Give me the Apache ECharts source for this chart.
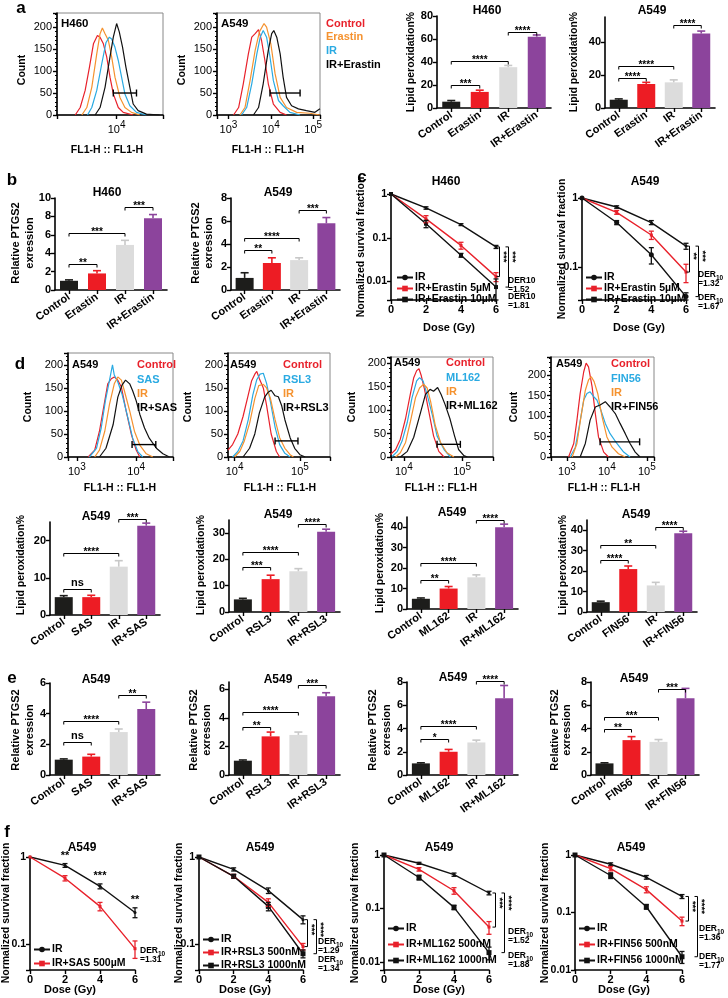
<!DOCTYPE html>
<html>
<head>
<meta charset="utf-8">
<script src="https://cdn.jsdelivr.net/npm/echarts@6/dist/echarts.min.js"></script>
<style>
html, body { margin: 0; padding: 0; background: #fff; }
#chart { width: 728px; height: 998px; }
</style>
</head>
<body>
<div id="chart"></div>
<script>
// ---------- data ----------
const doses = [0, 2, 4, 6];

const catsErastin = ['Control', 'Erastin', 'IR', 'IR+Erastin'];
const catsSAS = ['Control', 'SAS', 'IR', 'IR+SAS'];
const catsRSL3 = ['Control', 'RSL3', 'IR', 'IR+RSL3'];
const catsML162 = ['Control', 'ML162', 'IR', 'IR+ML162'];
const catsFIN56 = ['Control', 'FIN56', 'IR', 'IR+FIN56'];

// lipid peroxidation % (a, d)
const lipidH460 = [5.5, 14, 35.5, 62];
const lipidH460Err = [1, 1.5, 1.5, 1.5];
const lipidA549 = [5, 14.5, 15.5, 45];
const lipidA549Err = [0.5, 1, 1.5, 1.5];
const lipidSAS = [4.8, 4.8, 13, 24];
const lipidSASErr = [0.4, 0.5, 1.6, 0.7];
const lipidRSL3 = [4.8, 12.5, 15.5, 30.5];
const lipidRSL3Err = [0.4, 1.5, 1, 1];
const lipidML162 = [5, 10, 15.5, 40];
const lipidML162Err = [0.4, 1, 1.2, 1.5];
const lipidFIN56 = [4.8, 21, 13, 38.5];
const lipidFIN56Err = [0.5, 1.5, 1.5, 1];

// relative PTGS2 expression (b, e)
const ptgsH460 = [1.0, 1.8, 4.9, 7.8];
const ptgsH460Err = [0.1, 0.3, 0.5, 0.4];
const ptgsA549 = [1.05, 2.35, 2.6, 5.8];
const ptgsA549Err = [0.45, 0.45, 0.2, 0.5];
const ptgsSAS = [1.0, 1.2, 2.8, 4.3];
const ptgsSASErr = [0.05, 0.15, 0.2, 0.45];
const ptgsRSL3 = [1.0, 2.7, 2.8, 5.5];
const ptgsRSL3Err = [0.05, 0.3, 0.2, 0.25];
const ptgsML162 = [1.0, 2.0, 2.8, 6.6];
const ptgsML162Err = [0.05, 0.2, 0.2, 1.1];
const ptgsFIN56 = [1.0, 3.0, 2.85, 6.6];
const ptgsFIN56Err = [0.05, 0.3, 0.2, 0.85];

// significance brackets: [from, to, height, label]
const lipidH460Sig = [[0, 1, 20, '***'], [0, 2, 41, '****'], [2, 3, 66, '****']];
const lipidA549Sig = [[0, 1, 18, '****'], [0, 2, 25.5, '****'], [2, 3, 50, '****']];
const ptgsH460Sig = [[0, 1, 2.8, '**'], [0, 2, 6.2, '***'], [2, 3, 9, '***']];
const ptgsA549Sig = [[0, 1, 3.5, '**'], [0, 2, 4.5, '****'], [2, 3, 7, '***']];
const lipidSASSig = [[0, 1, 6.9, 'ns'], [0, 2, 16.7, '****'], [2, 3, 25.9, '***']];
const lipidRSL3Sig = [[0, 1, 17.1, '***'], [0, 2, 23, '****'], [2, 3, 33.4, '****']];
const lipidML162Sig = [[0, 1, 14.2, '**'], [0, 2, 22.3, '****'], [2, 3, 43.5, '****']];
const lipidFIN56Sig = [[0, 1, 25.4, '****'], [0, 2, 32.7, '**'], [2, 3, 41.6, '****']];
const ptgsSASSig = [[0, 1, 2.14, 'ns'], [0, 2, 3.5, '****'], [2, 3, 5.2, '**']];
const ptgsRSL3Sig = [[0, 1, 3.33, '**'], [0, 2, 4.4, '****'], [2, 3, 6.3, '***']];
const ptgsML162Sig = [[0, 1, 3.1, '*'], [0, 2, 4.2, '****'], [2, 3, 8.1, '****']];
const ptgsFIN56Sig = [[0, 1, 3.94, '**'], [0, 2, 5.0, '***'], [2, 3, 7.4, '***']];

// survival fractions (c, f)
const survH460IR = [1, 0.48, 0.2, 0.062];
const survH460IRErr = [0, 0.03, 0.01, 0.005];
const survH460E5 = [1, 0.27, 0.067, 0.013];
const survH460E5Err = [0, 0.05, 0.012, 0.003];
const survH460E10 = [1, 0.21, 0.04, 0.0075];
const survH460E10Err = [0, 0.04, 0.004, 0.004];
const survA549IR = [1, 0.74, 0.44, 0.2];
const survA549IRErr = [0, 0.03, 0.03, 0.02];
const survA549E5 = [1, 0.62, 0.29, 0.084];
const survA549E5Err = [0, 0.04, 0.04, 0.025];
const survA549E10 = [1, 0.44, 0.15, 0.037];
const survA549E10Err = [0, 0.03, 0.04, 0.005];
const survSASIR = [1, 0.8, 0.46, 0.23];
const survSASIRErr = [0, 0.04, 0.03, 0.03];
const survSAS500 = [1, 0.57, 0.27, 0.088];
const survSAS500Err = [0, 0.04, 0.03, 0.02];
const survRSL3IR = [1, 0.72, 0.41, 0.19];
const survRSL3IRErr = [0, 0.03, 0.03, 0.02];
const survRSL3500 = [1, 0.6, 0.3, 0.093];
const survRSL3500Err = [0, 0.03, 0.03, 0.008];
const survRSL31000 = [1, 0.6, 0.27, 0.077];
const survRSL31000Err = [0, 0.03, 0.03, 0.008];
const survML162IR = [1, 0.7, 0.43, 0.195];
const survML162IRErr = [0, 0.03, 0.03, 0.015];
const survML162500 = [1, 0.54, 0.215, 0.045];
const survML162500Err = [0, 0.04, 0.03, 0.012];
const survML1621000 = [1, 0.38, 0.105, 0.015];
const survML1621000Err = [0, 0.04, 0.01, 0.004];
const survFIN56IR = [1, 0.69, 0.41, 0.19];
const survFIN56IRErr = [0, 0.04, 0.03, 0.015];
const survFIN56500 = [1, 0.58, 0.25, 0.071];
const survFIN56500Err = [0, 0.05, 0.03, 0.012];
const survFIN561000 = [1, 0.44, 0.126, 0.017];
const survFIN561000Err = [0, 0.05, 0.012, 0.004];

// flow histograms: x as log10(FL1-H), y as count
const hH460CtrlX = [3.375, 3.45, 3.525, 3.59, 3.65, 3.71, 3.75, 3.8, 3.85, 3.9, 3.95, 4.025, 4.1, 4.25];
const hH460CtrlY = [0, 17, 56, 109, 162, 181, 177, 162, 132, 86, 48, 17, 6, 0];
const hH460EraX = [3.475, 3.55, 3.625, 3.7, 3.75, 3.785, 3.825, 3.875, 3.925, 3.975, 4.05, 4.125, 4.225, 4.35];
const hH460EraY = [0, 17, 63, 139, 185, 198, 185, 170, 132, 86, 40, 17, 6, 0];
const hH460IRX = [3.56, 3.625, 3.7, 3.775, 3.84, 3.89, 3.925, 3.975, 4.025, 4.075, 4.125, 4.2, 4.3, 4.45];
const hH460IRY = [0, 17, 56, 116, 165, 177, 173, 154, 124, 86, 48, 21, 6, 0];
const hH460IREX = [3.675, 3.75, 3.825, 3.9, 3.95, 4.0, 4.04, 4.09, 4.14, 4.2, 4.25, 4.325, 4.45, 4.65];
const hH460IREY = [0, 17, 63, 132, 177, 208, 189, 154, 109, 63, 25, 10, 2, 0];

const hA549CtrlX = [3.12, 3.24, 3.35, 3.47, 3.55, 3.63, 3.71, 3.78, 3.86, 3.94, 4.06, 4.22, 4.37];
const hA549CtrlY = [0, 17, 71, 139, 177, 185, 194, 170, 124, 71, 25, 6, 0];
const hA549EraX = [3.27, 3.39, 3.51, 3.63, 3.73, 3.84, 3.9, 4.0, 4.1, 4.22, 4.37, 4.61, 4.92, 5.16];
const hA549EraY = [0, 17, 78, 147, 189, 208, 200, 162, 94, 40, 17, 6, 4, 0];
const hA549IRX = [3.31, 3.43, 3.55, 3.67, 3.75, 3.82, 3.9, 3.98, 4.06, 4.18, 4.29, 4.45, 4.69];
const hA549IRY = [0, 17, 71, 139, 177, 192, 177, 132, 78, 33, 21, 6, 0];
const hA549IREX = [3.59, 3.71, 3.82, 3.94, 4.02, 4.07, 4.14, 4.22, 4.29, 4.37, 4.49, 4.65, 4.84, 5.04, 5.16];
const hA549IREY = [0, 17, 71, 147, 185, 192, 177, 139, 86, 40, 21, 14, 10, 6, 14];

const hSASCtrlX = [3.19, 3.3, 3.38, 3.47, 3.52, 3.58, 3.63, 3.69, 3.75, 3.83, 3.92, 4.0, 4.06];
const hSASCtrlY = [0, 15, 56, 122, 159, 170, 174, 167, 152, 100, 48, 15, 0];
const hSASDrugX = [3.21, 3.33, 3.41, 3.48, 3.55, 3.6, 3.63, 3.69, 3.76, 3.86, 3.94, 4.03, 4.11];
const hSASDrugY = [0, 19, 63, 122, 167, 200, 178, 163, 137, 85, 41, 11, 0];
const hSASIRX = [3.3, 3.38, 3.47, 3.55, 3.63, 3.69, 3.75, 3.8, 3.89, 3.97, 4.06, 4.17, 4.28];
const hSASIRY = [0, 15, 56, 115, 159, 174, 167, 144, 100, 56, 26, 7, 0];
const hSASComboX = [3.38, 3.49, 3.61, 3.69, 3.76, 3.82, 3.89, 3.94, 4.0, 4.06, 4.14, 4.22, 4.34, 4.45, 4.56];
const hSASComboY = [0, 19, 70, 130, 156, 167, 159, 144, 122, 93, 63, 41, 19, 7, 0];

const hRSL3CtrlX = [3.9, 3.97, 4.05, 4.13, 4.21, 4.26, 4.31, 4.34, 4.38, 4.44, 4.49, 4.56, 4.64, 4.69];
const hRSL3CtrlY = [15, 27, 50, 88, 135, 165, 180, 186, 170, 150, 112, 50, 12, 0];
const hRSL3DrugX = [3.97, 4.05, 4.13, 4.21, 4.28, 4.34, 4.39, 4.44, 4.49, 4.55, 4.62, 4.69, 4.77, 4.85];
const hRSL3DrugY = [0, 12, 35, 81, 135, 168, 180, 182, 160, 119, 65, 27, 8, 0];
const hRSL3IRX = [4.0, 4.08, 4.15, 4.23, 4.31, 4.37, 4.44, 4.49, 4.55, 4.62, 4.69, 4.77, 4.85, 4.9];
const hRSL3IRY = [0, 12, 35, 73, 127, 155, 158, 150, 127, 81, 42, 19, 5, 0];
const hRSL3ComboX = [4.13, 4.23, 4.31, 4.38, 4.46, 4.51, 4.56, 4.62, 4.67, 4.72, 4.77, 4.85, 4.92, 5.0, 5.08];
const hRSL3ComboY = [0, 19, 50, 96, 130, 140, 145, 133, 131, 112, 81, 42, 19, 5, 0];

const hML162CtrlX = [3.77, 3.86, 3.94, 4.03, 4.11, 4.17, 4.22, 4.26, 4.3, 4.35, 4.43, 4.51, 4.6, 4.69];
const hML162CtrlY = [5, 16, 38, 82, 133, 169, 184, 188, 173, 147, 96, 45, 12, 0];
const hML162DrugX = [3.8, 3.89, 3.97, 4.06, 4.14, 4.22, 4.27, 4.33, 4.4, 4.49, 4.57, 4.69, 4.8];
const hML162DrugY = [1, 12, 34, 74, 126, 162, 169, 162, 133, 89, 45, 16, 0];
const hML162IRX = [3.86, 3.94, 4.03, 4.11, 4.2, 4.27, 4.34, 4.4, 4.46, 4.54, 4.63, 4.74, 4.86];
const hML162IRY = [0, 9, 31, 74, 126, 147, 155, 147, 118, 67, 31, 9, 0];
const hML162ComboX = [3.94, 4.06, 4.17, 4.29, 4.37, 4.45, 4.51, 4.58, 4.64, 4.71, 4.79, 4.87, 4.94, 5.03, 5.09];
const hML162ComboY = [0, 12, 42, 96, 133, 144, 140, 148, 133, 111, 82, 45, 16, 3, 0];

const hFIN56CtrlX = [3.04, 3.17, 3.25, 3.33, 3.42, 3.48, 3.54, 3.63, 3.71, 3.79, 3.92, 4.04];
const hFIN56CtrlY = [0, 33, 90, 155, 208, 229, 220, 171, 106, 49, 12, 0];
const hFIN56DrugX = [3.08, 3.21, 3.32, 3.42, 3.5, 3.58, 3.67, 3.75, 3.85, 3.96, 4.08, 4.25, 4.42, 4.58];
const hFIN56DrugY = [0, 24, 82, 139, 155, 159, 147, 139, 114, 82, 57, 33, 12, 0];
const hFIN56IRX = [3.13, 3.25, 3.35, 3.46, 3.54, 3.61, 3.68, 3.77, 3.88, 4.0, 4.13, 4.29, 4.46];
const hFIN56IRY = [0, 33, 98, 163, 188, 196, 184, 155, 98, 49, 24, 8, 0];
const hFIN56ComboX = [3.33, 3.46, 3.58, 3.71, 3.83, 3.96, 4.08, 4.21, 4.33, 4.46, 4.58, 4.71, 4.83];
const hFIN56ComboY = [0, 33, 90, 122, 127, 135, 122, 106, 82, 57, 33, 12, 0];

// ---------- style ----------
const FONT = '"Liberation Sans", Arial, sans-serif';
const BAR_COLORS = ['#1d1d1b', '#ed1c24', '#dcdcdc', '#8c449c'];
const RED = '#e8212b', ORANGE = '#f5922f', CYAN = '#2aaae2', BLACK = '#111111';

const option = {
  animation: false,
  textStyle: { fontFamily: FONT },
  grid: [], xAxis: [], yAxis: [], series: [], legend: []
};
const G = [];

function T(s, x, y, o) {
  o = o || {};
  G.push({
    type: 'text', x: x, y: y, rotation: o.rot || 0, silent: true,
    style: {
      text: s, fill: o.color || '#000', fontFamily: FONT,
      fontSize: o.size || 11, fontWeight: o.weight || 'bold',
      align: o.align || 'center', verticalAlign: 'middle', rich: o.rich
    }
  });
}
const ROT = Math.PI / 2;
const derRich = { s: { fontSize: 6.5, fontWeight: 'bold', fontFamily: FONT, padding: [6, 0, 0, 0] } };
function der(x, y, val, plain) {
  T(plain ? 'DER10' : 'DER{s|10}', x, y, { size: 8.5, align: 'left', rich: plain ? undefined : derRich });
  T('=' + val, x, y + 9, { size: 8.5, align: 'left' });
}

const axLine = { show: true, onZero: false, lineStyle: { color: '#000', width: 1.6 } };
const axTick = { show: true, length: 4, lineStyle: { color: '#000', width: 1.4 } };
const boldLabel = { color: '#000', fontFamily: FONT, fontWeight: 'bold', fontSize: 11, margin: 4 };

function line(x1, y1, x2, y2, c, w) {
  return { type: 'line', shape: { x1: x1, y1: y1, x2: x2, y2: y2 }, style: { stroke: c || '#000', lineWidth: w || 1 } };
}

// ---------- bar panel ----------
function barPanel(p) {
  const gi = option.grid.length;
  option.grid.push({ left: p.left, top: p.top, width: p.width, height: p.height });
  const ticks = [];
  for (let v = 0; v <= p.max + 1e-9; v += p.step) ticks.push(+v.toFixed(4));
  option.xAxis.push({
    gridIndex: gi, type: 'category', data: p.cats,
    axisLine: axLine, axisTick: Object.assign({ alignWithLabel: true }, axTick),
    axisLabel: Object.assign({}, boldLabel, { interval: 0, rotate: 35, margin: 6 })
  });
  option.yAxis.push({
    gridIndex: gi, type: 'value', min: 0, max: p.max,
    axisLine: axLine,
    axisTick: Object.assign({ customValues: ticks }, axTick),
    axisLabel: Object.assign({ customValues: ticks }, boldLabel),
    splitLine: { show: false }
  });
  option.series.push({
    type: 'bar', xAxisIndex: gi, yAxisIndex: gi, barWidth: 18, silent: true,
    data: p.vals.map((v, i) => ({ value: v, itemStyle: { color: BAR_COLORS[i] } }))
  });
  option.series.push({
    type: 'custom', xAxisIndex: gi, yAxisIndex: gi, silent: true, z: 3,
    data: p.vals.map((v, i) => [i, v, p.errs[i]]),
    renderItem: function (params, api) {
      const i = params.dataIndex;
      const a = api.coord([i, p.vals[i]]);
      const b = api.coord([i, p.vals[i] + p.errs[i]]);
      const c = i === 2 ? '#c8c8c8' : BAR_COLORS[i];
      return { type: 'group', children: [line(a[0], a[1], b[0], b[1], c, 1.6), line(b[0] - 4, b[1], b[0] + 4, b[1], c, 1.6)] };
    }
  });
  option.series.push({
    type: 'custom', xAxisIndex: gi, yAxisIndex: gi, silent: true, z: 4,
    data: p.sig.map(s => [s[0], s[2]]),
    renderItem: function (params, api) {
      const s = p.sig[params.dataIndex];
      const a = api.coord([s[0], s[2]]), b = api.coord([s[1], s[2]]);
      const y = Math.round(a[1]) + 0.5;
      const ns = s[3] === 'ns';
      return {
        type: 'group', children: [
          { type: 'polyline', shape: { points: [[a[0], y + 3], [a[0], y], [b[0], y], [b[0], y + 3]] }, style: { stroke: '#000', lineWidth: 1, fill: null } },
          { type: 'text', x: (a[0] + b[0]) / 2, y: ns ? y - 1 : y + 4, style: { text: s[3], fill: '#000', fontFamily: FONT, fontWeight: 'bold', fontSize: ns ? 11 : 10, align: 'center', verticalAlign: 'bottom' } }
        ]
      };
    }
  });
}

// ---------- survival panel ----------
function decLabel(v) {
  const e = Math.log10(v), r = Math.round(e);
  if (Math.abs(e - r) > 1e-4) return '';
  return r >= 0 ? String(Math.pow(10, r)) : Math.pow(10, r).toFixed(-r);
}
function survPanel(p) {
  const gi = option.grid.length;
  option.grid.push({ left: p.left, top: p.top, width: p.width, height: p.height });
  option.xAxis.push({
    gridIndex: gi, type: 'value', min: 0, max: 6, interval: 2,
    axisLine: axLine, axisTick: axTick, axisLabel: boldLabel, splitLine: { show: false }
  });
  option.yAxis.push({
    gridIndex: gi, type: 'log', logBase: 10, min: p.min, max: 1,
    axisLine: axLine, axisTick: axTick,
    axisLabel: Object.assign({}, boldLabel, { fontSize: 10.5, formatter: decLabel }),
    splitLine: { show: false }
  });
  p.curves.forEach(c => {
    option.series.push({
      type: 'line', name: c.name, xAxisIndex: gi, yAxisIndex: gi, silent: true,
      data: doses.map((d, i) => [d, c.vals[i]]),
      symbol: c.symbol, symbolSize: c.size, showSymbol: true,
      itemStyle: { color: c.color }, lineStyle: { color: c.color, width: 1.4 }, z: 3
    });
    option.series.push({
      type: 'custom', xAxisIndex: gi, yAxisIndex: gi, silent: true, z: 4,
      data: doses.map((d, i) => [d, c.vals[i]]),
      renderItem: function (params, api) {
        const i = params.dataIndex, e = c.errs[i];
        if (!e) return null;
        const hi = api.coord([doses[i], c.vals[i] + e]);
        const lo = api.coord([doses[i], Math.max(c.vals[i] - e, p.min)]);
        return { type: 'group', children: [
          line(hi[0], hi[1], lo[0], lo[1], c.color, 1.3),
          line(hi[0] - 2.5, hi[1], hi[0] + 2.5, hi[1], c.color, 1.3),
          line(lo[0] - 2.5, lo[1], lo[0] + 2.5, lo[1], c.color, 1.3)
        ] };
      }
    });
  });
  if (p.brackets) {
    option.series.push({
      type: 'custom', xAxisIndex: gi, yAxisIndex: gi, silent: true, z: 5,
      data: p.brackets.map(b => [6, b[0]]),
      renderItem: function (params, api) {
        const b = p.brackets[params.dataIndex];
        const a = api.coord([6, b[0]]), c = api.coord([6, b[1]]);
        const x = Math.round(a[0] + b[3]) + 0.5;
        const ty = a[1] + Math.min(10, (c[1] - a[1]) / 2);
        return { type: 'group', children: [
          { type: 'polyline', shape: { points: [[x - 3, a[1]], [x, a[1]], [x, c[1]], [x - 3, c[1]]] }, style: { stroke: '#000', lineWidth: 1, fill: null } },
          { type: 'text', x: x + 4, y: ty, rotation: -ROT, style: { text: b[2], fill: '#000', fontFamily: FONT, fontWeight: 'bold', fontSize: 9.5, align: 'center', verticalAlign: 'middle' } }
        ] };
      }
    });
  }
  if (p.stars) {
    option.series.push({
      type: 'custom', xAxisIndex: gi, yAxisIndex: gi, silent: true, z: 5,
      data: p.stars.map(s => [s[0], s[1]]),
      renderItem: function (params, api) {
        const s = p.stars[params.dataIndex];
        const a = api.coord([s[0], s[1]]);
        return { type: 'text', x: a[0], y: a[1] - 2, style: { text: s[2], fill: '#000', fontFamily: FONT, fontWeight: 'bold', fontSize: 11, align: 'center', verticalAlign: 'bottom' } };
      }
    });
  }
  option.legend.push({
    left: p.legend[0], top: p.legend[1], orient: 'vertical', padding: 0,
    itemGap: p.legend[2], itemWidth: 16, itemHeight: 7, selectedMode: false,
    data: p.curves.map(c => c.name),
    textStyle: { color: '#000', fontFamily: FONT, fontWeight: 'bold', fontSize: 10.5, lineHeight: p.legend[3], padding: [0, 0, 0, -3] }
  });
}

// ---------- histogram panel ----------
function expLabel(v) {
  const e = Math.log10(v), r = Math.round(e);
  return Math.abs(e - r) < 1e-4 ? '{b|10}{s|' + r + '}' : '';
}
const expRich = {
  b: { fontFamily: FONT, fontSize: 11, color: '#000' },
  s: { fontFamily: FONT, fontSize: 10, color: '#000', padding: [0, 0, 9, 0] }
};
function histPanel(p) {
  const gi = option.grid.length;
  option.grid.push({ left: p.left, top: p.top, width: p.width, height: p.height, show: true, borderColor: '#888', borderWidth: 1, backgroundColor: 'transparent' });
  option.xAxis.push({
    gridIndex: gi, type: 'log', logBase: 10, min: Math.pow(10, p.xmin), max: Math.pow(10, p.xmax),
    axisLine: axLine, axisTick: axTick,
    axisLabel: { margin: 5, formatter: expLabel, rich: expRich },
    splitLine: { show: false }
  });
  option.yAxis.push({
    gridIndex: gi, type: 'value', min: 0, max: p.ymax, interval: 50,
    axisLine: axLine, axisTick: axTick,
    minorTick: { show: true, splitNumber: 5, length: 2, lineStyle: { color: '#000' } },
    axisLabel: { color: '#000', fontFamily: FONT, fontSize: 11, margin: 5, formatter: v => (v % 50 === 0 ? String(v) : '') },
    splitLine: { show: false }
  });
  p.curves.forEach((c, k) => {
    option.series.push({
      type: 'line', name: p.id + '-' + k, xAxisIndex: gi, yAxisIndex: gi, silent: true,
      showSymbol: false, symbol: 'none', z: 3 + k,
      data: c.x.map((e, i) => [Math.pow(10, e), c.y[i]]),
      lineStyle: { color: c.color, width: 1.2 }, itemStyle: { color: c.color }
    });
  });
  const g = p.gate;
  option.series.push({
    type: 'custom', xAxisIndex: gi, yAxisIndex: gi, silent: true, z: 10,
    data: [[Math.pow(10, g[0]), g[2]]],
    renderItem: function (params, api) {
      const a = api.coord([Math.pow(10, g[0]), g[2]]), b = api.coord([Math.pow(10, g[1]), g[2]]);
      return { type: 'group', children: [
        line(a[0], a[1], b[0], b[1], '#000', 1.4),
        line(a[0], a[1] - 3.5, a[0], a[1] + 3.5, '#000', 1.4),
        line(b[0], b[1] - 3.5, b[0], b[1] + 3.5, '#000', 1.4)
      ] };
    }
  });
}

// ---------- row a ----------
histPanel({ id: 'hH460', left: 57, top: 13, width: 106, height: 102, xmin: 3.1, xmax: 4.7, ymax: 232, gate: [3.95, 4.3, 50],
  curves: [{ x: hH460CtrlX, y: hH460CtrlY, color: RED }, { x: hH460EraX, y: hH460EraY, color: ORANGE }, { x: hH460IRX, y: hH460IRY, color: CYAN }, { x: hH460IREX, y: hH460IREY, color: BLACK }] });
histPanel({ id: 'hA549', left: 217, top: 13, width: 103, height: 102, xmin: 2.73, xmax: 5.16, ymax: 232, gate: [3.98, 4.69, 50],
  curves: [{ x: hA549CtrlX, y: hA549CtrlY, color: RED }, { x: hA549EraX, y: hA549EraY, color: ORANGE }, { x: hA549IRX, y: hA549IRY, color: CYAN }, { x: hA549IREX, y: hA549IREY, color: BLACK }] });
barPanel({ left: 437, top: 16, width: 114, height: 92, max: 80, step: 20, cats: catsErastin, vals: lipidH460, errs: lipidH460Err, sig: lipidH460Sig });
barPanel({ left: 605, top: 17, width: 110, height: 91, max: 55, step: 20, cats: catsErastin, vals: lipidA549, errs: lipidA549Err, sig: lipidA549Sig });

// ---------- row b / c ----------
barPanel({ left: 55, top: 198, width: 112, height: 92, max: 10, step: 2, cats: catsErastin, vals: ptgsH460, errs: ptgsH460Err, sig: ptgsH460Sig });
barPanel({ left: 231, top: 198, width: 109, height: 92, max: 8, step: 2, cats: catsErastin, vals: ptgsA549, errs: ptgsA549Err, sig: ptgsA549Sig });
survPanel({ left: 391, top: 194, width: 105, height: 106, min: 0.0038, legend: [396, 272, 0, 10],
  curves: [
    { name: 'IR', vals: survH460IR, errs: survH460IRErr, color: BLACK, symbol: 'circle', size: 3 },
    { name: 'IR+Erastin 5µM', vals: survH460E5, errs: survH460E5Err, color: RED, symbol: 'rect', size: 3 },
    { name: 'IR+Erastin 10µM', vals: survH460E10, errs: survH460E10Err, color: BLACK, symbol: 'rect', size: 4 }
  ],
  brackets: [[survH460IR[3], survH460E5[3], '***', 3], [survH460IR[3], survH460E10[3], '***', 12]] });
survPanel({ left: 582, top: 198, width: 104, height: 102, min: 0.033, legend: [585, 272, 0, 10],
  curves: [
    { name: 'IR', vals: survA549IR, errs: survA549IRErr, color: BLACK, symbol: 'circle', size: 3 },
    { name: 'IR+Erastin 5µM', vals: survA549E5, errs: survA549E5Err, color: RED, symbol: 'rect', size: 3 },
    { name: 'IR+Erastin 10µM', vals: survA549E10, errs: survA549E10Err, color: BLACK, symbol: 'circle', size: 5 }
  ],
  brackets: [[survA549IR[3], survA549E5[3], '**', 3], [survA549IR[3], survA549E10[3], '***', 12]] });

// ---------- row d ----------
histPanel({ id: 'hSAS', left: 68, top: 353, width: 105, height: 104, xmin: 2.85, xmax: 4.62, ymax: 226, gate: [3.93, 4.33, 27],
  curves: [{ x: hSASCtrlX, y: hSASCtrlY, color: RED }, { x: hSASDrugX, y: hSASDrugY, color: CYAN }, { x: hSASIRX, y: hSASIRY, color: ORANGE }, { x: hSASComboX, y: hSASComboY, color: BLACK }] });
histPanel({ id: 'hRSL3', left: 228, top: 353, width: 102, height: 104, xmin: 3.9, xmax: 5.46, ymax: 226, gate: [4.62, 4.97, 35],
  curves: [{ x: hRSL3CtrlX, y: hRSL3CtrlY, color: RED }, { x: hRSL3DrugX, y: hRSL3DrugY, color: CYAN }, { x: hRSL3IRX, y: hRSL3IRY, color: ORANGE }, { x: hRSL3ComboX, y: hRSL3ComboY, color: BLACK }] });
histPanel({ id: 'hML162', left: 391, top: 357, width: 102, height: 100, xmin: 3.78, xmax: 5.53, ymax: 213, gate: [4.57, 4.97, 27],
  curves: [{ x: hML162CtrlX, y: hML162CtrlY, color: RED }, { x: hML162DrugX, y: hML162DrugY, color: CYAN }, { x: hML162IRX, y: hML162IRY, color: ORANGE }, { x: hML162ComboX, y: hML162ComboY, color: BLACK }] });
histPanel({ id: 'hFIN56', left: 551, top: 357, width: 103, height: 100, xmin: 2.6, xmax: 5.18, ymax: 244, gate: [3.83, 4.82, 37],
  curves: [{ x: hFIN56CtrlX, y: hFIN56CtrlY, color: RED }, { x: hFIN56DrugX, y: hFIN56DrugY, color: CYAN }, { x: hFIN56IRX, y: hFIN56IRY, color: ORANGE }, { x: hFIN56ComboX, y: hFIN56ComboY, color: BLACK }] });

barPanel({ left: 50, top: 522, width: 110, height: 93, max: 25, step: 10, cats: catsSAS, vals: lipidSAS, errs: lipidSASErr, sig: lipidSASSig });
barPanel({ left: 229, top: 520, width: 111, height: 92, max: 35, step: 10, cats: catsRSL3, vals: lipidRSL3, errs: lipidRSL3Err, sig: lipidRSL3Sig });
barPanel({ left: 407, top: 517, width: 111, height: 92, max: 45, step: 10, cats: catsML162, vals: lipidML162, errs: lipidML162Err, sig: lipidML162Sig });
barPanel({ left: 587, top: 520, width: 110, height: 92, max: 45, step: 10, cats: catsFIN56, vals: lipidFIN56, errs: lipidFIN56Err, sig: lipidFIN56Sig });

// ---------- row e ----------
barPanel({ left: 50, top: 683, width: 110, height: 92, max: 6, step: 2, cats: catsSAS, vals: ptgsSAS, errs: ptgsSASErr, sig: ptgsSASSig });
barPanel({ left: 229, top: 682, width: 111, height: 93, max: 6.5, step: 2, cats: catsRSL3, vals: ptgsRSL3, errs: ptgsRSL3Err, sig: ptgsRSL3Sig });
barPanel({ left: 407, top: 682, width: 111, height: 93, max: 8, step: 2, cats: catsML162, vals: ptgsML162, errs: ptgsML162Err, sig: ptgsML162Sig });
barPanel({ left: 591, top: 682, width: 108, height: 93, max: 8, step: 2, cats: catsFIN56, vals: ptgsFIN56, errs: ptgsFIN56Err, sig: ptgsFIN56Sig });

// ---------- row f ----------
survPanel({ left: 30, top: 857, width: 105, height: 113, min: 0.05, legend: [33, 944, 3, 10],
  curves: [
    { name: 'IR', vals: survSASIR, errs: survSASIRErr, color: BLACK, symbol: 'circle', size: 3 },
    { name: 'IR+SAS 500µM', vals: survSAS500, errs: survSAS500Err, color: RED, symbol: 'rect', size: 3 }
  ],
  stars: [[2, survSASIR[1] + survSASIRErr[1], '**'], [4, survSASIR[2] + survSASIRErr[2], '***'], [6, survSASIR[3] + survSASIRErr[3], '**']] });
survPanel({ left: 199, top: 857, width: 104, height: 113, min: 0.05, legend: [202, 934, 2, 10],
  curves: [
    { name: 'IR', vals: survRSL3IR, errs: survRSL3IRErr, color: BLACK, symbol: 'circle', size: 3 },
    { name: 'IR+RSL3 500nM', vals: survRSL3500, errs: survRSL3500Err, color: RED, symbol: 'rect', size: 3 },
    { name: 'IR+RSL3 1000nM', vals: survRSL31000, errs: survRSL31000Err, color: BLACK, symbol: 'rect', size: 5 }
  ],
  brackets: [[survRSL3IR[3], survRSL3500[3], '***', 4], [survRSL3IR[3], survRSL31000[3], '****', 13]] });
survPanel({ left: 384, top: 855, width: 105, height: 115, min: 0.0071, legend: [387, 923, 5, 11],
  curves: [
    { name: 'IR', vals: survML162IR, errs: survML162IRErr, color: BLACK, symbol: 'circle', size: 3 },
    { name: 'IR+ML162 500nM', vals: survML162500, errs: survML162500Err, color: RED, symbol: 'rect', size: 3 },
    { name: 'IR+ML162 1000nM', vals: survML1621000, errs: survML1621000Err, color: BLACK, symbol: 'rect', size: 5 }
  ],
  brackets: [[survML162IR[3], survML162500[3], '***', 6], [survML162IR[3], survML1621000[3], '****', 15]] });
survPanel({ left: 575, top: 855, width: 107, height: 115, min: 0.01, legend: [578, 923, 5, 11],
  curves: [
    { name: 'IR', vals: survFIN56IR, errs: survFIN56IRErr, color: BLACK, symbol: 'circle', size: 3 },
    { name: 'IR+FIN56 500nM', vals: survFIN56500, errs: survFIN56500Err, color: RED, symbol: 'rect', size: 3 },
    { name: 'IR+FIN56 1000nM', vals: survFIN561000, errs: survFIN561000Err, color: BLACK, symbol: 'rect', size: 5 }
  ],
  brackets: [[survFIN56IR[3], survFIN56500[3], '***', 6], [survFIN56IR[3], survFIN561000[3], '****', 15]] });

// ---------- texts ----------
// panel letters
T('a', 21, 8, { size: 17 }); T('b', 12, 180, { size: 17 }); T('c', 362, 177, { size: 17 });
T('d', 20, 364, { size: 17 }); T('e', 12, 678, { size: 17 }); T('f', 7, 832, { size: 17 });

// row a histograms
T('H460', 61, 24, { align: 'left', size: 11.5 });
T('A549', 221, 24, { align: 'left', size: 11.5 });
T('Count', 22, 70, { rot: ROT, size: 10.5 }); T('Count', 182, 70, { rot: ROT, size: 10.5 });
T('FL1-H :: FL1-H', 107, 150, { size: 10.5 }); T('FL1-H :: FL1-H', 268, 150, { size: 10.5 });
T('Control', 326, 24, { align: 'left', color: RED }); T('Erastin', 326, 37, { align: 'left', color: ORANGE });
T('IR', 326, 51, { align: 'left', color: CYAN }); T('IR+Erastin', 326, 65, { align: 'left' });

// row a bars
T('H460', 487, 11, { size: 12 }); T('A549', 652, 11, { size: 12 });
T('Lipid peroxidation%', 411, 62, { rot: ROT, size: 10.5 }); T('Lipid peroxidation%', 574, 62, { rot: ROT, size: 10.5 });

// row b
T('H460', 107, 193, { size: 12 }); T('A549', 278, 193, { size: 12 });
T('Relative PTGS2', 16, 243, { rot: ROT, size: 11 }); T('exression', 30, 243, { rot: ROT, size: 11 });
T('Relative PTGS2', 196, 243, { rot: ROT, size: 11 }); T('exression', 209, 243, { rot: ROT, size: 11 });

// row c
T('H460', 446, 182, { size: 12 }); T('A549', 645, 182, { size: 12 });
T('Normalized survival fraction', 361, 247, { rot: ROT, size: 10.5 });
T('Normalized survival fraction', 562, 249, { rot: ROT, size: 10.5 });
T('Dose (Gy)', 449, 328); T('Dose (Gy)', 639, 328);
der(508, 281, '1.52', true); der(508, 297, '1.81', true);
der(698, 275, '1.32'); der(698, 298, '1.67');

// row d histograms
T('A549', 72, 365, { align: 'left' }); T('A549', 230, 365, { align: 'left' });
T('A549', 394, 363, { align: 'left' }); T('A549', 556, 364, { align: 'left' });
T('Count', 28, 407, { rot: ROT, size: 10.5 }); T('Count', 188, 407, { rot: ROT, size: 10.5 });
T('Count', 352, 407, { rot: ROT, size: 10.5 }); T('Count', 514, 407, { rot: ROT, size: 10.5 });
T('FL1-H :: FL1-H', 120, 488, { size: 10.5 }); T('FL1-H :: FL1-H', 280, 488, { size: 10.5 });
T('FL1-H :: FL1-H', 441, 488, { size: 10.5 }); T('FL1-H :: FL1-H', 604, 488, { size: 10.5 });
[[137, 365, 'SAS'], [283, 365, 'RSL3'], [446, 363, 'ML162'], [611, 364, 'FIN56']].forEach(l => {
  const x = l[0], y = l[1];
  T('Control', x, y, { align: 'left', color: RED });
  T(l[2], x, y + 15, { align: 'left', color: CYAN });
  T('IR', x, y + 29, { align: 'left', color: ORANGE });
  T('IR+' + l[2], x, y + 43, { align: 'left' });
});

// row d bars
T('A549', 96, 517, { size: 12 }); T('A549', 278, 515, { size: 12 });
T('A549', 452, 513, { size: 12 }); T('A549', 636, 515, { size: 12 });
T('Lipid peroxidation%', 21, 565, { rot: ROT, size: 10.5 }); T('Lipid peroxidation%', 201, 565, { rot: ROT, size: 10.5 });
T('Lipid peroxidation%', 380, 563, { rot: ROT, size: 10.5 }); T('Lipid peroxidation%', 563, 565, { rot: ROT, size: 10.5 });

// row e
T('A549', 96, 680, { size: 12 }); T('A549', 278, 680, { size: 12 });
T('A549', 453, 678, { size: 12 }); T('A549', 634, 679, { size: 12 });
[[16, 30], [194, 207], [373, 387], [555, 567]].forEach(x => {
  T('Relative PTGS2', x[0], 730, { rot: ROT, size: 11 });
  T('exression', x[1], 730, { rot: ROT, size: 11 });
});

// row f
T('A549', 82, 848, { size: 12 }); T('A549', 260, 848, { size: 12 });
T('A549', 439, 848, { size: 12 }); T('A549', 631, 848, { size: 12 });
T('Normalized survival fraction', 6, 913, { rot: ROT, size: 10.5 });
T('Normalized survival fraction', 179, 913, { rot: ROT, size: 10.5 });
T('Normalized survival fraction', 355, 913, { rot: ROT, size: 10.5 });
T('Normalized survival fraction', 545, 913, { rot: ROT, size: 10.5 });
T('Dose (Gy)', 70, 990); T('Dose (Gy)', 245, 990); T('Dose (Gy)', 439, 990); T('Dose (Gy)', 624, 990);
der(140, 951, '1.31');
der(318, 942, '1.29'); der(318, 960, '1.34');
der(508, 932, '1.52'); der(508, 956, '1.88');
der(699, 929, '1.36'); der(699, 957, '1.77');

option.graphic = { elements: G };

const chart = echarts.init(document.getElementById('chart'), null, { renderer: 'canvas' });
chart.setOption(option);
</script>
</body>
</html>
